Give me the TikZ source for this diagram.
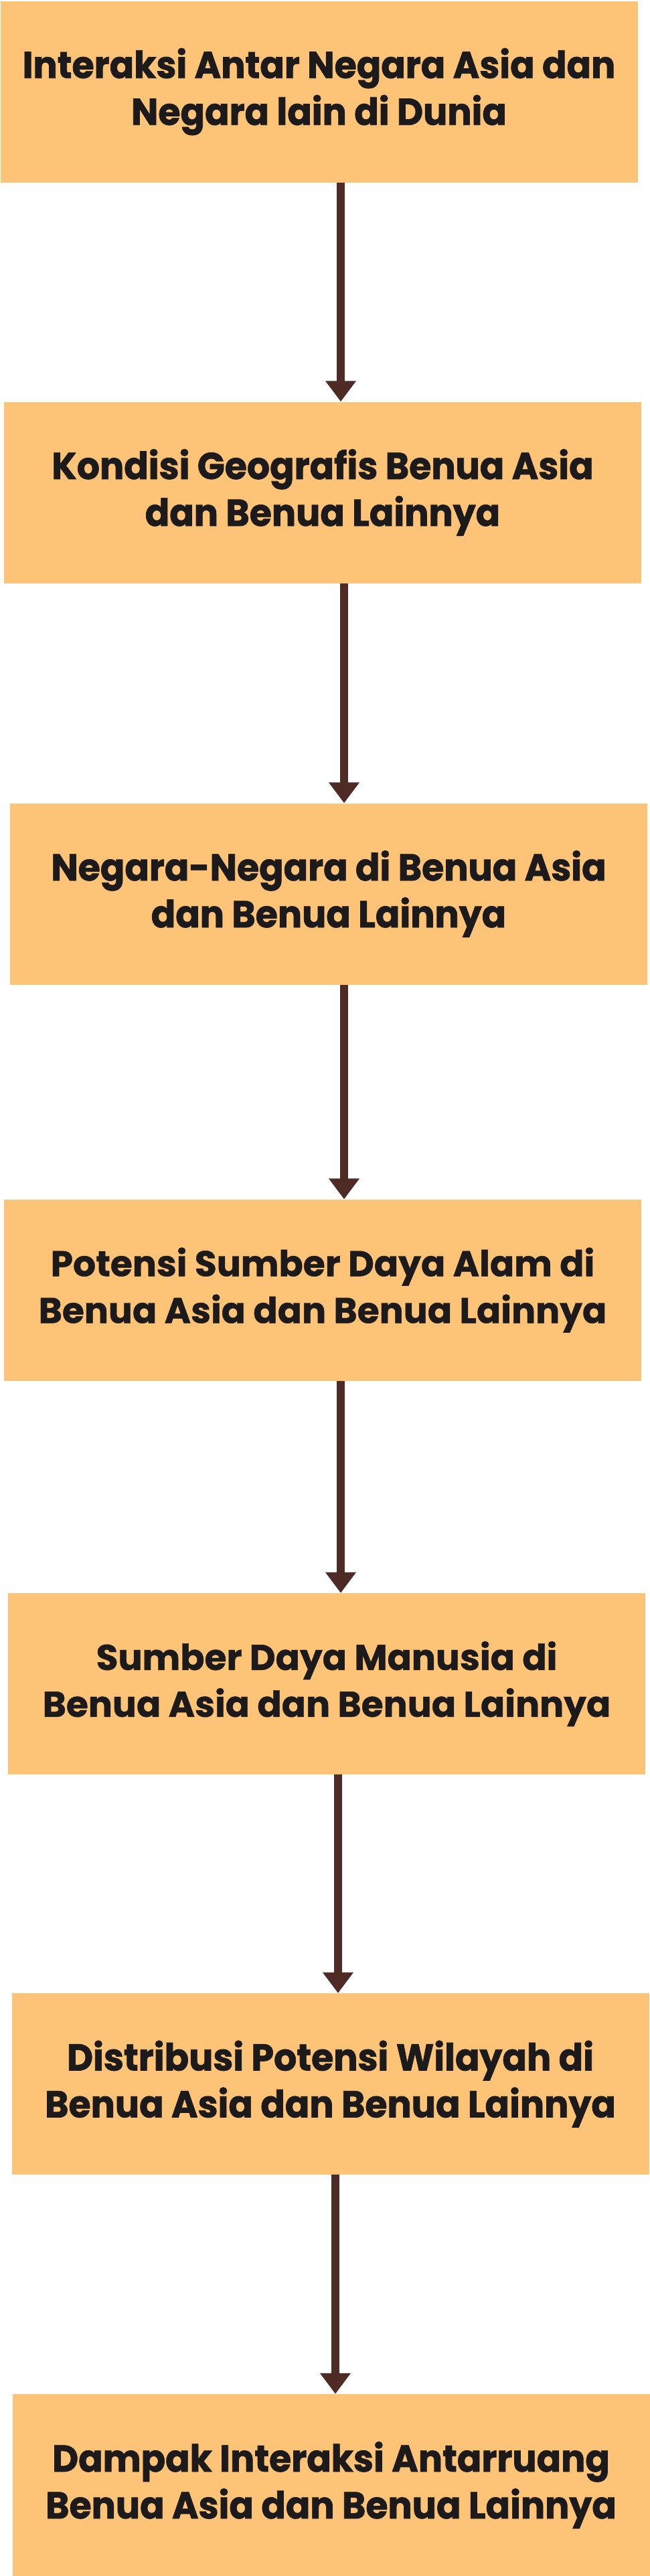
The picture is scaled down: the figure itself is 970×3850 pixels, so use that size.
\documentclass[tikz,border=0pt]{standalone}
\usepackage{fontspec}
\usetikzlibrary{arrows.meta}
\newfontfamily\popc{Poppins}[FakeStretch=0.96, BoldFeatures={FakeBold=1.3}]
\newfontfamily\popn{Poppins}[BoldFeatures={FakeBold=0.8}]
\definecolor{boxfill}{HTML}{FDC477}
\definecolor{arrcol}{HTML}{4E2C25}
\definecolor{txtcol}{HTML}{1C1A1A}
\tikzset{
  stepbox/.style={rectangle, fill=boxfill, draw=none, minimum width=952pt, minimum height=271pt, inner sep=0pt, align=center, text=txtcol},
  condtxt/.style={font=\popc\bfseries\fontsize{56}{70}\selectfont},
  normtxt/.style={font=\popn\bfseries\fontsize{53.5}{70}\selectfont},
  flowarr/.style={draw=arrcol, line width=12pt, -{Triangle[length=31pt, width=44pt]}}
}
\begin{document}
\begin{tikzpicture}[x=1pt,y=1pt]
\useasboundingbox (0,0) rectangle (970,-3850);
\node[stepbox, condtxt] (b1) at (476.5,-137) {Interaksi Antar Negara Asia dan\\Negara lain di Dunia};
\node[stepbox, condtxt] (b2) at (482,-736) {Kondisi Geografis Benua Asia\\dan Benua Lainnya};
\node[stepbox, condtxt] (b3) at (491,-1336) {Negara-Negara di Benua Asia\\dan Benua Lainnya};
\node[stepbox, normtxt] (b4) at (482,-1928) {Potensi Sumber Daya Alam di\\Benua Asia dan Benua Lainnya};
\node[stepbox, normtxt] (b5) at (488,-2516.5) {Sumber Daya Manusia di\\Benua Asia dan Benua Lainnya};
\node[stepbox, condtxt] (b6) at (493.5,-3114.5) {Distribusi Potensi Wilayah di\\Benua Asia dan Benua Lainnya};
\node[stepbox, condtxt, minimum height=272pt] (b7) at (494.5,-3714) {Dampak Interaksi Antarruang\\Benua Asia dan Benua Lainnya};
\coordinate (a1) at (509,0);
\coordinate (a2) at (514,0);
\coordinate (a3) at (514,0);
\coordinate (a4) at (509,0);
\coordinate (a5) at (505,0);
\coordinate (a6) at (501,0);
\draw[flowarr] (b1.south -| a1) -- (b2.north -| a1);
\draw[flowarr] (b2.south -| a2) -- (b3.north -| a2);
\draw[flowarr] (b3.south -| a3) -- (b4.north -| a3);
\draw[flowarr] (b4.south -| a4) -- (b5.north -| a4);
\draw[flowarr] (b5.south -| a5) -- (b6.north -| a5);
\draw[flowarr] (b6.south -| a6) -- (b7.north -| a6);
\end{tikzpicture}
\end{document}
